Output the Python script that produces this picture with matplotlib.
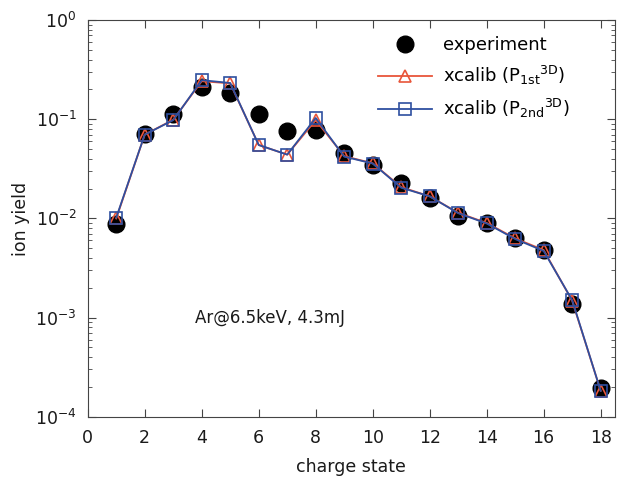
"""Ion yield vs. charge state for Ar at 6.5 keV, experiment vs. xcalib."""

import numpy as np
import matplotlib
matplotlib.use('Agg')
import matplotlib.pyplot as plt

charge_state = np.arange(1, 19)

experiment = [0.0088, 0.071, 0.114, 0.212, 0.184, 0.113, 0.076, 0.078, 0.0455,
              0.0348, 0.0228, 0.0160, 0.0107, 0.0089, 0.0064, 0.0048, 0.00136, 0.000196]

calib_1st = [0.0100, 0.070, 0.099, 0.242, 0.230, 0.055, 0.044, 0.098, 0.0425,
             0.0360, 0.0207, 0.0167, 0.0114, 0.0090, 0.0063, 0.0048, 0.00148, 0.000183]

calib_2nd = [0.0102, 0.070, 0.098, 0.248, 0.232, 0.055, 0.044, 0.103, 0.0420,
             0.0358, 0.0204, 0.0167, 0.0113, 0.0089, 0.0062, 0.0047, 0.00150, 0.000183]

RED = '#e8553a'
BLUE = '#2e4fa0'
TEXT = '#1a1a1a'

plt.rcParams['font.family'] = 'DejaVu Sans'
plt.rcParams['mathtext.fontset'] = 'dejavusans'

fig = plt.figure(figsize=(6.18, 4.78), dpi=100)
ax = fig.add_axes([0.142, 0.128, 0.853, 0.830])

ax.plot(charge_state, experiment, 'o', color='black', markersize=12,
        label='experiment', zorder=2)
ax.plot(charge_state, calib_1st, '-', marker='^', color=RED, markersize=8,
        fillstyle='none', markeredgewidth=1.2, linewidth=1.3,
        label=r'xcalib ($\mathregular{P_{1st}{}^{3D}}$)', zorder=3)
ax.plot(charge_state, calib_2nd, '-', marker='s', color=BLUE, markersize=8,
        fillstyle='none', markeredgewidth=1.2, linewidth=1.3,
        label=r'xcalib ($\mathregular{P_{2nd}{}^{3D}}$)', zorder=4)

ax.set_yscale('log')
ax.set_xlim(0, 18.5)
ax.set_ylim(1e-4, 1)
ax.set_xticks(np.arange(0, 19, 2))

ax.tick_params(which='both', direction='in', top=True, right=True,
               labelsize=12.5, colors='#444444', labelcolor=TEXT)
ax.tick_params(which='major', length=6)
ax.tick_params(which='minor', length=3)
ax.tick_params(axis='x', which='major', pad=9)
ax.tick_params(axis='y', which='major', pad=8)
ax.tick_params(axis='x', which='minor', bottom=False, top=False)
for spine in ax.spines.values():
    spine.set_color('#444444')

ax.set_xlabel('charge state', fontsize=12.5, color=TEXT, labelpad=8)
ax.set_ylabel('ion yield', fontsize=12.5, color=TEXT, labelpad=4)

ax.text(3.75, 1e-3, 'Ar@6.5keV, 4.3mJ', fontsize=12, color=TEXT,
        va='center', ha='left')

ax.legend(loc='upper left', frameon=False, fontsize=13, handlelength=3.0,
          handletextpad=0.6, bbox_to_anchor=(0.52, 1.0), labelspacing=0.55)

fig.savefig('out.png', dpi=100)
